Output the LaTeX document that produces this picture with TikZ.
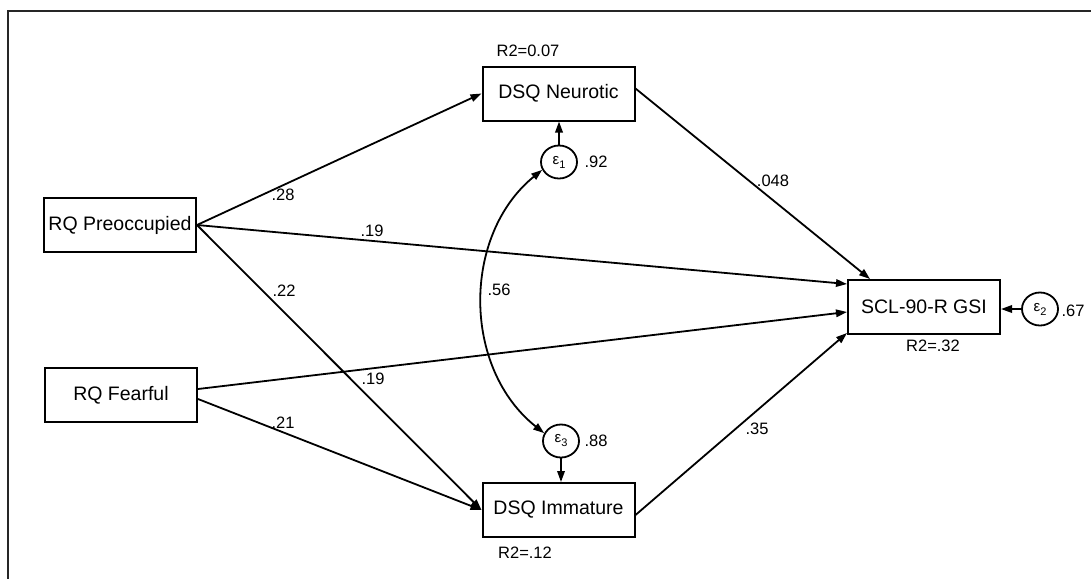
\documentclass[tikz,border=0pt]{standalone}
\usepackage{fontspec}
\setmainfont{Liberation Sans}
\usetikzlibrary{arrows.meta,shapes.geometric}
\newcommand{\eps}[1]{ε\raisebox{-4pt}{\fontsize{11}{12}\selectfont #1}}
\begin{document}
\begin{tikzpicture}[x=1pt,y=-1pt,
  box/.style={draw, line width=2pt, minimum width=152pt, minimum height=54pt, inner sep=0pt, font=\fontsize{19.5}{22}\selectfont},
  err/.style={draw, ellipse, line width=1.8pt, minimum width=36pt, minimum height=33pt, inner sep=0pt, font=\fontsize{15}{16}\selectfont},
  lab/.style={font=\fontsize{16.5}{18}\selectfont, inner sep=0pt},
  pth/.style={line width=1.8pt, -{Triangle[length=11pt,width=7.5pt]}},
  cov/.style={line width=1.8pt, {Triangle[length=11pt,width=7.5pt]}-{Triangle[length=11pt,width=7.5pt]}},
]
\useasboundingbox (0,0) rectangle (1091,579);
% frame
\coordinate (fc) at (8,11);
\coordinate (fr) at (1091,11);
\coordinate (fb) at (8,579);
\draw[line width=2pt, black!85] (fr) -- (fc) -- (fb);

% nodes
\node[box] (pre) at (120,225) {RQ Preoccupied};
\node[box] (fear) at (121,395) {RQ Fearful};
\node[box] (neu) at (558.5,93.5) {DSQ Neurotic};
\node[box] (imm) at (558.5,510) {DSQ Immature};
\node[box] (scl) at (924,307) {SCL-90-R GSI};
\node[err] (e1) at (559,162) {\eps{1}};
\node[err] (e3) at (561,441) {\eps{3}};
\node[err] (e2) at (1040,309) {\eps{2}};

% paths
\draw[pth] (pre.east) -- (neu.west);
\draw[pth] (pre.east) -- ([yshift=23pt]scl.west);
\draw[pth] (pre.east) -- (imm.west);
\draw[pth] ([yshift=6pt]fear.east) -- ([yshift=-5pt]scl.west);
\draw[pth] ([yshift=-4pt]fear.east) -- (imm.west);
\draw[pth] ([yshift=5pt]neu.east) -- ([xshift=-54pt]scl.north);
\draw[pth] ([yshift=-5pt]imm.east) -- ([yshift=2pt]scl.south west);
\draw[pth] (e1.north) -- (neu.south -| e1.north);
\draw[pth] (e3.south) -- (imm.north -| e3.south);
\draw[pth] (e2.west) -- (e2.west -| scl.east);
\draw[cov] (e1.205) .. controls (462,235) and (462,368) .. (e3.155);

% labels
\node[lab] (l1) at (283,195) {.28};
\node[lab] (l2) at (372,231) {.19};
\node[lab] (l3) at (284,291) {.22};
\node[lab] (l4) at (373,379) {.19};
\node[lab] (l5) at (283,423) {.21};
\node[lab] (l6) at (499,290) {.56};
\node[lab] (l7) at (773,181) {.048};
\node[lab] (l8) at (757,429) {.35};
\node[lab] (l9) at (596,162) {.92};
\node[lab] (l10) at (596,441) {.88};
\node[lab] (l11) at (1073,311) {.67};
\node[lab] (r1) at (528,51) {R2=0.07};
\node[lab] (r2) at (525,553) {R2=.12};
\node[lab] (r3) at (933,346) {R2=.32};
\end{tikzpicture}
\end{document}
